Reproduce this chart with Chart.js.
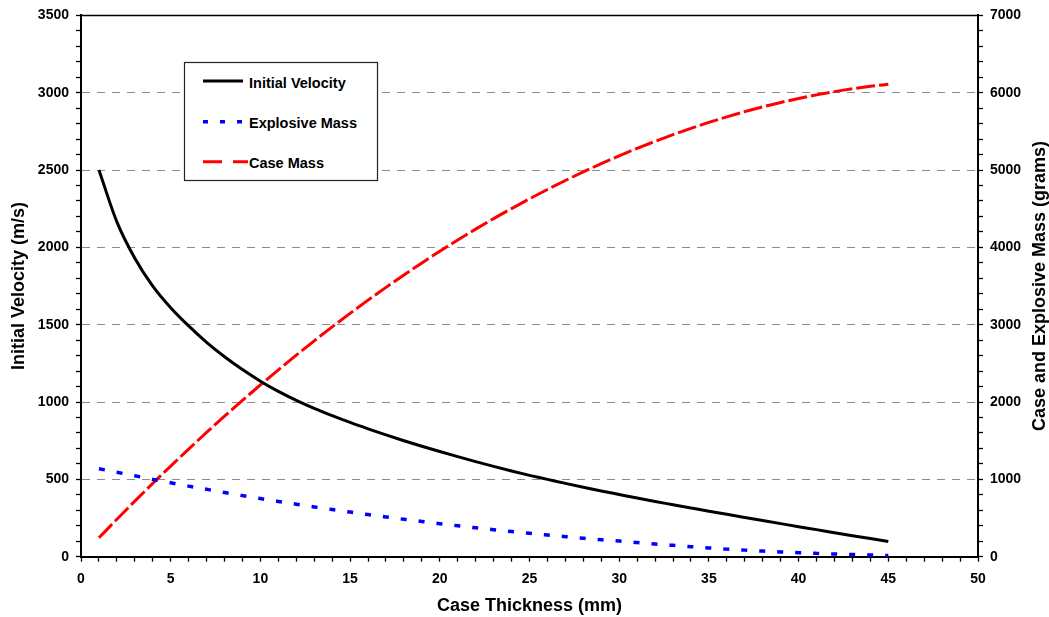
<!DOCTYPE html>
<html>
<head>
<meta charset="utf-8">
<script src="https://cdn.jsdelivr.net/npm/chart.js@4.4.1/dist/chart.umd.min.js"></script>
<style>
  html, body { margin: 0; padding: 0; background: #fff; }
  #wrap { position: relative; width: 1049px; height: 617px; }
  #c { position: absolute; left: 0; top: 0; }
  #legend { position: absolute; left: 0; top: 0; pointer-events: none; }
</style>
</head>
<body>
<div id="wrap">
  <canvas id="c" width="1049" height="617"></canvas>
  <svg id="legend" width="1049" height="617" xmlns="http://www.w3.org/2000/svg">
    <rect x="184.5" y="62.5" width="193" height="118" fill="#fff" stroke="#222" stroke-width="1.2"/>
    <line x1="203" y1="81" x2="243" y2="81" stroke="#000" stroke-width="3"/>
    <line x1="203" y1="121.7" x2="243" y2="121.7" stroke="#0000ff" stroke-width="3.5" stroke-dasharray="5 12"/>
    <line x1="203" y1="161.7" x2="248" y2="161.7" stroke="#ff0000" stroke-width="3" stroke-dasharray="19 11"/>
    <g font-family="'Liberation Sans', Arial, sans-serif" font-weight="bold" font-size="14.5" fill="#000">
      <text x="249" y="88.3">Initial Velocity</text>
      <text x="249" y="127.7">Explosive Mass</text>
      <text x="249" y="167.7">Case Mass</text>
    </g>
  </svg>
</div>
<script>
// ---- Data ----
const thickness = [1,2,3,4,5,6,7,8,9,10,11,12,13,14,15,16,17,18,19,20,21,22,23,24,25,26,27,28,29,30,31,32,33,34,35,36,37,38,39,40,41,42,43,44,45];
const initialVelocity = [2500,2165,1930,1750,1610,1492,1386,1293,1210,1135,1069,1011,959,912,868,827,788,750,714,680,647,615,584,554,526,500,474,449,425,402,379,357,336,315,294,274,254,234,214,194,175,155,136,117,98];
const explosiveMass = [1138,1092,1046,1000,956,913,871,830,790,752,715,679,644,610,577,545,514,484,455,427,400,374,349,325,302,280,259,239,220,202,183,164,147,130,114,98,85,73,62,52,43,35,28,22,16];
const caseMass = [244,484,718,948,1172,1392,1607,1817,2021,2221,2416,2606,2792,2972,3147,3318,3483,3643,3799,3950,4095,4236,4372,4502,4628,4749,4865,4976,5082,5184,5280,5371,5458,5540,5616,5688,5755,5817,5874,5925,5972,6014,6051,6083,6110];
const xTickLabels = [0,5,10,15,20,25,30,35,40,45,50];
const velocityTickLabels = [0,500,1000,1500,2000,2500,3000,3500];
const massTickLabels = [0,1000,2000,3000,4000,5000,6000,7000];
const seriesNames = ['Initial Velocity', 'Explosive Mass', 'Case Mass'];
const axisTitles = { x: 'Case Thickness (mm)', y: 'Initial Velocity (m/s)', y2: 'Case and Explosive Mass (grams)' };

const toPts = arr => thickness.map((t, i) => ({ x: t, y: arr[i] }));
const FONT = "'Liberation Sans', Arial, sans-serif";
const tickFont = { family: FONT, size: 14, weight: 'bold' };

const framePlugin = {
  id: 'frame',
  afterDraw(chart) {
    const { ctx, chartArea: ca } = chart;
    ctx.save();
    ctx.strokeStyle = '#000';
    ctx.lineWidth = 1.5;
    ctx.beginPath();
    ctx.moveTo(ca.left, ca.top);
    ctx.lineTo(ca.right, ca.top);
    ctx.stroke();
    ctx.fillStyle = '#000';
    ctx.font = "bold 18px " + FONT;
    ctx.textAlign = 'center';
    ctx.textBaseline = 'middle';
    const cy = (ca.top + ca.bottom) / 2;
    ctx.fillText(axisTitles.x, (ca.left + ca.right) / 2, 606);
    ctx.save();
    ctx.translate(19, cy);
    ctx.rotate(-Math.PI / 2);
    ctx.fillText(axisTitles.y, 0, 0);
    ctx.restore();
    ctx.save();
    ctx.translate(1040, cy);
    ctx.rotate(-Math.PI / 2);
    ctx.fillText(axisTitles.y2, 0, 0);
    ctx.restore();
    ctx.restore();
  }
};

new Chart(document.getElementById('c'), {
  type: 'line',
  data: {
    datasets: [
      { label: seriesNames[0], data: toPts(initialVelocity), yAxisID: 'y', borderColor: '#000000', borderWidth: 3, pointRadius: 0, cubicInterpolationMode: 'monotone', fill: false },
      { label: seriesNames[1], data: toPts(explosiveMass), yAxisID: 'y2', borderColor: '#0000ff', borderWidth: 3.5, borderDash: [6, 12], borderCapStyle: 'butt', pointRadius: 0, cubicInterpolationMode: 'monotone', fill: false },
      { label: seriesNames[2], data: toPts(caseMass), yAxisID: 'y2', borderColor: '#ff0000', borderWidth: 3, borderDash: [19, 4], borderCapStyle: 'butt', pointRadius: 0, cubicInterpolationMode: 'monotone', fill: false }
    ]
  },
  options: {
    responsive: false,
    animation: false,
    devicePixelRatio: 1,
    layout: { padding: { top: 12.5, left: 0, right: 0, bottom: 0 } },
    plugins: { legend: { display: false }, tooltip: { enabled: false } },
    scales: {
      x: {
        type: 'linear', min: 0, max: 50,
        afterFit: s => { s.height = 60.3; },
        ticks: { stepSize: 1, autoSkip: false, maxRotation: 0, padding: 9, color: '#000', font: tickFont,
          callback: v => xTickLabels.includes(v) ? String(v) : '' },
        grid: { drawOnChartArea: false, tickLength: 5, tickColor: '#000', tickWidth: 1.3 },
        border: { color: '#000', width: 2 }
      },
      y: {
        position: 'left', min: 0, max: 3500,
        afterFit: s => { s.width = 81; },
        ticks: { stepSize: 100, autoSkip: false, padding: 7, color: '#000', font: tickFont,
          callback: v => velocityTickLabels.includes(v) ? String(v) : '' },
        grid: {
          tickLength: 5, tickColor: '#000', tickWidth: 1.3, lineWidth: 1,
          color: c => (c.tick && c.tick.value % 500 === 0 && c.tick.value > 0 && c.tick.value < 3500) ? '#8c8c8c' : 'rgba(0,0,0,0)'
        },
        border: { color: '#000', width: 2, dash: [8, 7] }
      },
      y2: {
        position: 'right', min: 0, max: 7000,
        afterFit: s => { s.width = 71; },
        ticks: { stepSize: 200, autoSkip: false, padding: 7, color: '#000', font: tickFont,
          callback: v => massTickLabels.includes(v) ? String(v) : '' },
        grid: { drawOnChartArea: false, tickLength: 5, tickColor: '#000', tickWidth: 1.3 },
        border: { color: '#000', width: 2 }
      }
    }
  },
  plugins: [framePlugin]
});
</script>
</body>
</html>
